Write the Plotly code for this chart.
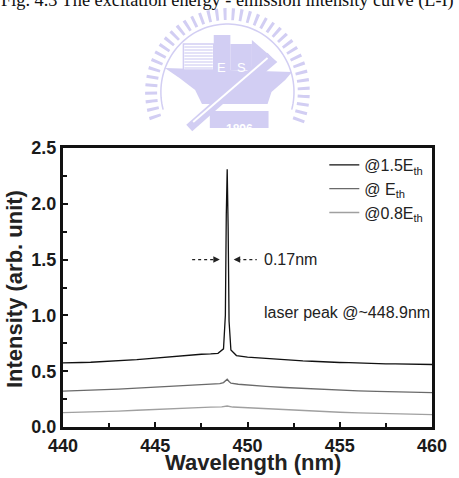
import numpy as np
import plotly.graph_objects as go

# ---- data ----
wl_hi = [440.0, 440.5, 441.0, 441.5, 442.0, 442.5, 443.0, 443.5, 444.0, 444.5, 445.0, 445.5,
         446.0, 446.5, 447.0, 447.5, 448.0, 448.4, 448.7, 448.8, 448.85, 448.9, 448.95, 449.0,
         449.1, 449.4, 450.0, 450.5, 451.0, 451.5, 452.0, 452.5, 453.0, 453.5, 454.0, 454.5,
         455.0, 455.5, 456.0, 456.5, 457.0, 457.5, 458.0, 458.5, 459.0, 459.5, 460.0]
int_hi = [0.575, 0.574, 0.578, 0.580, 0.584, 0.587, 0.592, 0.598, 0.603, 0.611, 0.618, 0.626,
          0.634, 0.640, 0.646, 0.652, 0.655, 0.660, 0.700, 1.000, 1.900, 2.310, 1.800, 0.950,
          0.690, 0.640, 0.626, 0.620, 0.612, 0.607, 0.603, 0.597, 0.592, 0.589, 0.584, 0.581,
          0.578, 0.576, 0.572, 0.570, 0.568, 0.566, 0.565, 0.563, 0.562, 0.561, 0.560]

wl_th = [440.0, 441.0, 442.0, 443.0, 444.0, 445.0, 446.0, 447.0, 447.5, 448.0, 448.5, 448.7,
         448.8, 448.9, 449.0, 449.1, 449.5, 450.0, 451.0, 452.0, 453.0, 454.0, 455.0, 456.0,
         457.0, 458.0, 459.0, 460.0]
int_th = [0.322, 0.326, 0.331, 0.339, 0.348, 0.357, 0.368, 0.378, 0.382, 0.386, 0.388, 0.398,
          0.415, 0.428, 0.408, 0.392, 0.383, 0.375, 0.364, 0.354, 0.345, 0.337, 0.330, 0.324,
          0.319, 0.315, 0.311, 0.308]

wl_08 = [440.0, 441.0, 442.0, 443.0, 444.0, 445.0, 446.0, 447.0, 448.0, 448.6, 448.9, 449.2,
         450.0, 451.0, 452.0, 453.0, 454.0, 455.0, 456.0, 457.0, 458.0, 459.0, 460.0]
int_08 = [0.128, 0.131, 0.135, 0.142, 0.150, 0.158, 0.166, 0.173, 0.178, 0.180, 0.188, 0.179,
          0.172, 0.163, 0.154, 0.146, 0.139, 0.132, 0.126, 0.121, 0.117, 0.113, 0.110]

series_names = ["@1.5E<sub>th</sub>", "@ E<sub>th</sub>", "@0.8E<sub>th</sub>"]
series_colors = ["#111111", "#6a6a6a", "#a0a0a0"]

W, H = 459, 478
ML, MR, MT, MB = 63, 19, 148, 51
PW, PH = W - ML - MR, H - MT - MB


def px(x):
    return (x - ML) / PW


def py(y):
    return (H - MB - y) / PH


fig = go.Figure()
for wl, val, name, col in zip([wl_hi, wl_th, wl_08], [int_hi, int_th, int_08],
                              series_names, series_colors):
    fig.add_trace(go.Scatter(x=wl, y=val, mode="lines", name=name,
                             line=dict(color=col, width=1.3)))

font_main = "Liberation Sans, Arial, sans-serif"
tick_font = dict(size=18, color="#1a1a1a", family=font_main, weight="bold")

fig.update_layout(
    width=W, height=H,
    margin=dict(l=ML, r=MR, t=MT, b=MB),
    paper_bgcolor="white", plot_bgcolor="white",
    font=dict(family=font_main, color="#222222"),
    showlegend=True,
    legend=dict(x=0.99, y=1.0, xanchor="right", yanchor="top",
                font=dict(size=16, color="#222222"), bgcolor="rgba(0,0,0,0)",
                tracegroupgap=0, itemwidth=30),
    xaxis=dict(range=[440, 460], dtick=5, tick0=440, ticks="inside", ticklen=5,
               tickwidth=2, tickcolor="#111", showline=True, linewidth=3,
               linecolor="#111", mirror=True, showgrid=False, zeroline=False,
               tickfont=tick_font,
               minor=dict(dtick=2.5, ticks="inside", ticklen=4, tickwidth=2, tickcolor="#111")),
    yaxis=dict(range=[0, 2.5], dtick=0.5, tick0=0, tickformat=".1f", ticks="inside",
               ticklen=5, tickwidth=2, tickcolor="#111", showline=True, linewidth=3,
               linecolor="#111", mirror=True, showgrid=False, zeroline=False,
               tickfont=tick_font,
               minor=dict(dtick=0.25, ticks="inside", ticklen=4, tickwidth=2, tickcolor="#111")),
)

# axis titles
title_font = dict(size=22, color="#222", family=font_main, weight="bold")
fig.add_annotation(text="Wavelength (nm)", xref="paper", yref="paper", x=px(257), y=py(463),
                   xanchor="center", yanchor="middle", showarrow=False, font=title_font)
fig.add_annotation(text="Intensity (arb. unit)", xref="paper", yref="paper", x=px(13), y=py(289),
                   xanchor="center", yanchor="middle", showarrow=False, textangle=-90,
                   font=title_font)

# FWHM markers
fig.add_shape(type="line", x0=447.0, x1=448.3, y0=1.5, y1=1.5, xref="x", yref="y",
              line=dict(color="#222", width=1.3, dash="dot"))
fig.add_shape(type="line", x0=449.45, x1=450.5, y0=1.5, y1=1.5, xref="x", yref="y",
              line=dict(color="#222", width=1.3, dash="dot"))
fig.add_annotation(x=448.5, y=1.5, ax=448.2, ay=1.5, axref="x", ayref="y", text="",
                   showarrow=True, arrowhead=2, arrowsize=1, arrowwidth=1.3, arrowcolor="#222")
fig.add_annotation(x=449.25, y=1.5, ax=449.55, ay=1.5, axref="x", ayref="y", text="",
                   showarrow=True, arrowhead=2, arrowsize=1, arrowwidth=1.3, arrowcolor="#222")
fig.add_annotation(text="0.17nm", x=450.8, y=1.5, xref="x", yref="y", xanchor="left",
                   yanchor="middle", showarrow=False, font=dict(size=16, color="#222"))
fig.add_annotation(text="laser peak @~448.9nm", x=450.8, y=1.03, xref="x", yref="y",
                   xanchor="left", yanchor="middle", showarrow=False,
                   font=dict(size=16, color="#222"))

# caption (partly cut at the top of the page)
fig.add_annotation(text="Fig. 4.3 The excitation energy - emission intensity curve (L-I)",
                   xref="paper", yref="paper", x=px(231), y=py(13), xanchor="center",
                   yanchor="bottom", showarrow=False,
                   font=dict(size=18.3, family="Liberation Serif, Times New Roman, serif",
                             color="#111"))

# ---- faint watermark logo (decoration) ----
lav = "#d2cef3"
cx, cy = 231, 92


def arc_path(r, a0, a1, n=80):
    pts = []
    for a in np.linspace(np.radians(a0), np.radians(a1), n):
        pts.append((px(cx + r * np.cos(a)), py(cy - r * np.sin(a))))
    return "M " + " L ".join(f"{x:.5f},{y:.5f}" for x, y in pts)


def poly_path(points):
    return "M " + " L ".join(f"{px(x):.5f},{py(y):.5f}" for x, y in points) + " Z"


deco = dict(xref="paper", yref="paper", layer="below")
fig.add_shape(type="path", path=arc_path(78, -22, 202), line=dict(color=lav, width=12, dash="3px,5px"), **deco)
fig.add_shape(type="path", path=arc_path(68, -15, 195), line=dict(color=lav, width=1.5), **deco)
# anvil / ship body
fig.add_shape(type="path", path=poly_path([(167, 68), (297, 72), (290, 80), (276, 92), (272, 104),
                                           (205, 104), (198, 90), (182, 78)]),
              fillcolor=lav, line=dict(width=0), **deco)
# buildings
fig.add_shape(type="path", path=poly_path([(186, 44), (217, 44), (217, 70), (186, 70)]),
              fillcolor="white", line=dict(color=lav, width=1.5), **deco)
for yy in range(47, 70, 3):
    fig.add_shape(type="line", x0=px(187), x1=px(216), y0=py(yy), y1=py(yy),
                  line=dict(color=lav, width=1.2), **deco)
fig.add_shape(type="path", path=poly_path([(217, 35), (234, 35), (234, 70), (217, 70)]),
              fillcolor=lav, line=dict(width=0), **deco)
fig.add_shape(type="path", path=poly_path([(234, 44), (256, 44), (256, 70), (234, 70)]),
              fillcolor=lav, line=dict(width=0), **deco)
fig.add_shape(type="path", path=poly_path([(256, 40), (282, 62), (270, 72), (256, 72)]),
              fillcolor=lav, line=dict(width=0), **deco)
fig.add_annotation(text="E", x=px(225), y=py(58), xref="paper", yref="paper", showarrow=False,
                   font=dict(size=13, color="white", family=font_main))
fig.add_annotation(text="S", x=px(245), y=py(58), xref="paper", yref="paper", showarrow=False,
                   font=dict(size=13, color="white", family=font_main))
# diagonal bar
fig.add_shape(type="line", x0=px(192), y0=py(128), x1=px(275), y1=py(56),
              line=dict(color=lav, width=9), **deco)
fig.add_shape(type="line", x0=px(196), y0=py(122), x1=px(272), y1=py(58),
              line=dict(color="white", width=2), **deco)
# 1896 plate
fig.add_shape(type="path", path=poly_path([(213, 111), (273, 111), (273, 128), (213, 128)]),
              fillcolor=lav, line=dict(width=0), **deco)
fig.add_annotation(text="1896", x=px(243), y=py(119.5), xref="paper", yref="paper", showarrow=False,
                   font=dict(size=12, color="white", family=font_main, weight="bold"))

fig.write_html("out.html")
